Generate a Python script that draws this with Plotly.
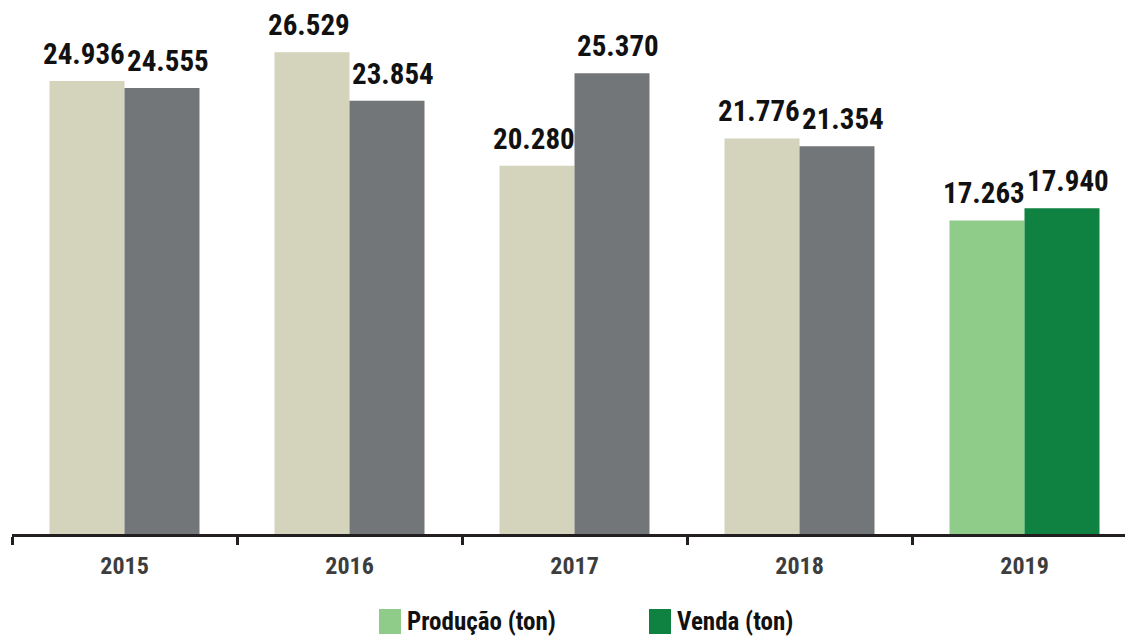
import plotly.graph_objects as go

# Annual production and sales, in tons
years = ["2015", "2016", "2017", "2018", "2019"]
producao = [24936, 26529, 20280, 21776, 17263]
venda = [24555, 23854, 25370, 21354, 17940]

# Past years in neutral tones, the latest year highlighted in green
producao_colors = ["#d4d3bc", "#d4d3bc", "#d4d3bc", "#d4d3bc", "#8fcb89"]
venda_colors = ["#737679", "#737679", "#737679", "#737679", "#0f8140"]
legend_labels = ["Produção (ton)", "Venda (ton)"]
legend_colors = ["#8fcb89", "#0f8140"]

W, H = 1125, 636
ML, MR, MT, MB = 12, 0, 0, 102
PW, PH = W - ML - MR, H - MT - MB
FONT = "Roboto Condensed, Open Sans Condensed, sans-serif"


def px_x(px):
    return (px - ML) / PW


def px_y(py):
    return (H - MB - py) / PH


def fmt(v):
    return f"{v:,}".replace(",", ".")


fig = go.Figure()
fig.add_trace(go.Bar(x=years, y=producao, marker=dict(color=producao_colors, line_width=0),
                     name=legend_labels[0], showlegend=False))
fig.add_trace(go.Bar(x=years, y=venda, marker=dict(color=venda_colors, line_width=0),
                     name=legend_labels[1], showlegend=False))

# Value labels above each bar, nudged apart so neighbouring labels don't touch
annotations = []
for i, (p, v) in enumerate(zip(producao, venda)):
    for off, val, nudge in ((-1 / 6, p, -3), (1 / 6, v, 6)):
        annotations.append(dict(
            x=i + off, y=val, xref="x", yref="y", text=fmt(val), showarrow=False,
            yanchor="bottom", yshift=8, xshift=nudge,
            font=dict(family=FONT, size=29, color="#111111", weight="bold"),
        ))

# Legend drawn as swatches and labels below the axis
shapes = []
for x0, label, color in ((379, legend_labels[0], legend_colors[0]),
                         (649, legend_labels[1], legend_colors[1])):
    shapes.append(dict(type="rect", xref="paper", yref="paper",
                       x0=px_x(x0), x1=px_x(x0 + 22), y0=px_y(634), y1=px_y(609),
                       fillcolor=color, line_width=0))
    annotations.append(dict(x=px_x(x0 + 26), y=px_y(621.5), xref="paper", yref="paper",
                            text=label, showarrow=False, xanchor="left", yanchor="middle",
                            font=dict(family=FONT, size=25, color="#111111", weight="bold")))

fig.update_layout(
    width=W, height=H,
    margin=dict(l=ML, r=MR, t=MT, b=MB, pad=0),
    paper_bgcolor="white", plot_bgcolor="white",
    barmode="group", bargap=1 / 3, bargroupgap=0,
    showlegend=False,
    annotations=annotations, shapes=shapes,
)
fig.update_xaxes(
    type="category", range=[-0.5, -0.5 + PW / 225],
    showline=True, linewidth=3, linecolor="#231f20",
    tickson="boundaries", ticks="outside", ticklen=8, tickwidth=3, tickcolor="#231f20",
    ticklabelstandoff=8,
    tickfont=dict(family=FONT, size=24, color="#3d3d3d", weight="bold"),
    showgrid=False, zeroline=False,
)
fig.update_yaxes(range=[0, 29400], visible=False, showgrid=False, zeroline=False)

fig.write_html("out.html")
